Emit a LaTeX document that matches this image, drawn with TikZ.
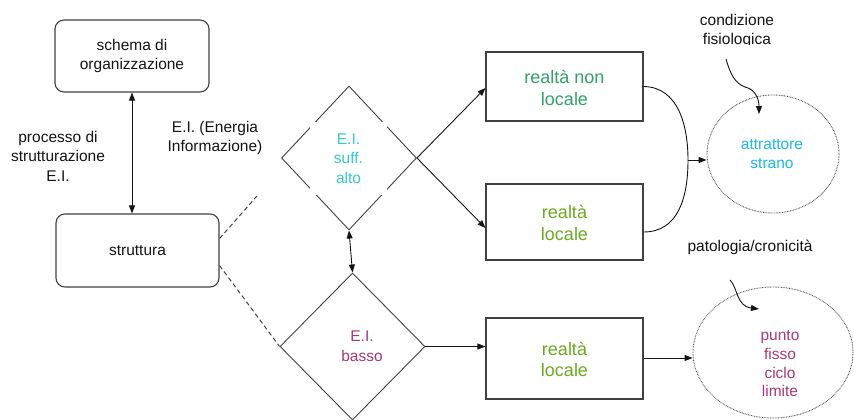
\documentclass[tikz,border=0pt]{standalone}
\usepackage{fontspec}
\setmainfont{Liberation Sans}
\usetikzlibrary{shapes.geometric,arrows.meta,calc}
\definecolor{ink}{RGB}{20,20,20}
\definecolor{boxgray}{RGB}{65,65,65}
\definecolor{nlgreen}{RGB}{50,160,105}
\definecolor{lgreen}{RGB}{105,170,30}
\definecolor{teal}{RGB}{55,200,205}
\definecolor{sky}{RGB}{25,185,235}
\definecolor{plum}{RGB}{170,55,120}
\begin{document}
\begin{tikzpicture}[x=1pt,y=-1pt,
  rbox/.style={draw=boxgray, line width=1.1pt, rounded corners=9pt, inner sep=0pt, align=center, text=ink, font=\fontsize{15.5}{19.5}\selectfont},
  sbox/.style={draw=boxgray, line width=1.1pt, inner sep=0pt, minimum width=157pt},
  dia/.style={draw=boxgray, line width=0.9pt, diamond, inner sep=0pt},
  ell/.style={draw=black!65, dash pattern=on 0.8pt off 0.8pt, line width=0.9pt, ellipse, inner sep=0pt},
  arr/.style={-{Triangle[length=8pt,width=6pt]}, line width=0.9pt, draw=ink},
  darr/.style={{Triangle[length=8pt,width=6pt]}-{Triangle[length=8pt,width=6pt]}, line width=0.9pt, draw=ink},
  dash line/.style={dash pattern=on 4.5pt off 3pt, line width=1pt, draw=boxgray},
  lbl/.style={font=\fontsize{15.5}{19.5}\selectfont, align=center, text=ink, inner sep=0pt},
  big/.style={font=\fontsize{18}{21.5}\selectfont, align=center, inner sep=0pt},
  mask/.style={fill=white, inner sep=0pt, align=center, font=\fontsize{15.5}{19.5}\selectfont}]
\useasboundingbox (0,0) rectangle (854,420);

% left boxes
\node[rbox, minimum width=154pt, minimum height=72pt] (schema) at (132,56) {schema di\\organizzazione};
\node[rbox, minimum width=163pt, minimum height=73pt] (strutt) at (137.5,250.5) {struttura};
\draw[darr] (schema.south) -- (schema.south |- strutt.north);

\node[lbl] (proc) at (58,156) {processo di\\strutturazione\\E.I.};
\node[lbl] (ei) at (215,138) {E.I. (Energia\\Informazione)};

% diamonds
\node[dia, minimum width=135pt, minimum height=144pt] (d1) at (349,158) {};
\node[dia, minimum width=145pt, minimum height=147pt] (d2) at (352.5,346.5) {};

\coordinate (dashend) at (257,196);
\draw[dash line] ($(strutt.east)+(0,-12)$) -- (dashend);
\draw[dash line] ($(strutt.east)+(0,15)$) -- (d2.west);
\draw[darr] (d1.south) -- (d2.north);

% rectangles
\node[sbox, minimum height=69pt] (nl) at (564.5,86.5) {};
\node[sbox, minimum height=76pt] (l1) at (564.5,222) {};
\node[sbox, minimum height=81pt] (l2) at (564.5,358.5) {};
\node[big, text=nlgreen] (nlt) at (564.5,88) {realtà non\\locale};
\begin{scope}
  \clip (486,184) rectangle (643,241);
  \node[big, text=lgreen] (l1t) at (564.5,223) {realtà\\locale};
\end{scope}
\node[big, text=lgreen] (l2t) at (564.5,359.5) {realtà\\locale};

\draw[arr] (d1.east) -- ($(nl.west)+(0,1.5)$);
\draw[arr] (d1.east) -- ($(l1.west)+(0,6)$);
\draw[arr] (d2.east) -- (d2.east -| l2.west);

% masks over diamonds with text
\node[mask, text=teal, minimum width=77pt, minimum height=73pt] (t1) at (348.5,158.5) {E.I.\\suff.\\alto};
\node[mask, text=plum, minimum width=70pt, minimum height=54pt] (t2) at (362,346) {E.I.\\basso};

% ellipses
\node[ell, minimum width=132pt, minimum height=118pt] (e1) at (773,154) {};
\node[ell, minimum width=160pt, minimum height=131pt] (e2) at (773,352.5) {};
\node[lbl, text=sky] (e1t) at (772,154) {attrattore\\strano};
\node[lbl, text=plum, font=\fontsize{15.5}{18.7}\selectfont] (e2t) at (780,364) {punto\\fisso\\ciclo\\limite};

% merge curve
\coordinate (j) at (688,160);
\draw[line width=0.9pt, draw=ink] (nl.east) .. controls (678,87) and (688,125) .. (j) .. controls (688,198) and (678,232) .. ($(l1.east)+(0,10)$);
\draw[arr] (j) -- (j -| e1.west);
\draw[arr] ($(l2.east)+(0,-0.5)$) -- ($(l2.east -| e2.west)+(0,-0.5)$);

% side labels
\begin{scope}
  \clip (650,0) rectangle (830,45);
  \node[lbl] (cond) at (737,31) {condizione\\fisiologica};
\end{scope}
\coordinate (cs) at (726,59);
\coordinate (ce) at (759,114);
\draw[arr] (cs) .. controls (732,80) and (738,85) .. (748,88) .. controls (756,91) and (759,100) .. (ce);

\node[lbl] (pat) at (750,247) {patologia/cronicità};
\coordinate (ps) at (730,280);
\coordinate (pe) at (759,309);
\draw[arr] (ps) .. controls (738,288) and (736,306) .. (pe);
\end{tikzpicture}
\end{document}
